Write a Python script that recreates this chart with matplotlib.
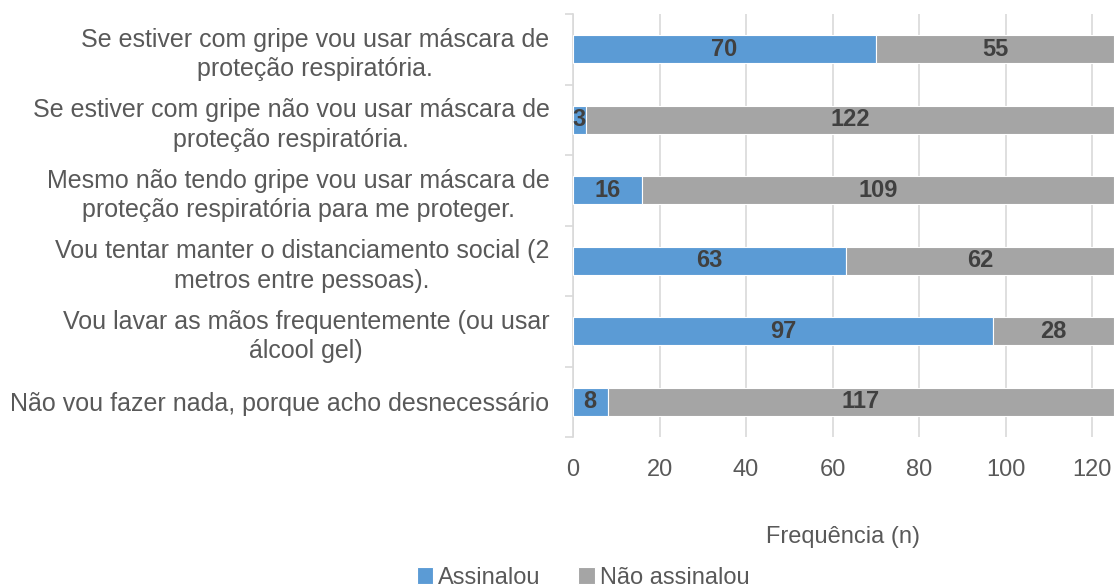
import matplotlib
matplotlib.use("Agg")
import matplotlib.pyplot as plt
from matplotlib import font_manager as fm
import numpy as np

categories = [
    "Se estiver com gripe vou usar máscara de\nproteção respiratória.",
    "Se estiver com gripe não vou usar máscara de\nproteção respiratória.",
    "Mesmo não tendo gripe vou usar máscara de\nproteção respiratória para me proteger.",
    "Vou tentar manter o distanciamento social (2\nmetros entre pessoas).",
    "Vou lavar as mãos frequentemente (ou usar\nálcool gel)",
    "Não vou fazer nada, porque acho desnecessário",
]
assinalou = [70, 3, 16, 63, 97, 8]
nao_assinalou = [55, 122, 109, 62, 28, 117]
series_names = ["Assinalou", "Não assinalou"]
xticks = [0, 20, 40, 60, 80, 100, 120]
xlabel = "Frequência (n)"

blue = "#5B9BD5"
gray = "#A5A5A5"
txt = "#595959"
grid = "#D9D9D9"

fp_label = fm.FontProperties(family="Liberation Sans", size=18)
fp_bold = fm.FontProperties(family="Liberation Sans", weight="bold", size=17)
fp_tick = fm.FontProperties(family="Liberation Sans", size=17)
fp_xlabel = fm.FontProperties(family="Liberation Sans", size=17)
fp_legend = fm.FontProperties(family="Liberation Sans", size=17)

fig = plt.figure(figsize=(11.14, 5.88), dpi=100)
ax = fig.add_axes([573 / 1114, 1 - 437 / 588, 1 - 573 / 1114, (437 - 14) / 588])

y = np.arange(len(categories))
b1 = ax.barh(y, assinalou, height=0.4, color=blue, edgecolor="white", linewidth=0.8,
             label=series_names[0], zorder=3)
b2 = ax.barh(y, nao_assinalou, left=assinalou, height=0.4, color=gray, edgecolor="white",
             linewidth=0.8, label=series_names[1], zorder=3)

for bars, vals, lefts in [(b1, assinalou, [0] * len(assinalou)), (b2, nao_assinalou, assinalou)]:
    for bar, v, l in zip(bars, vals, lefts):
        ax.text(l + v / 2, bar.get_y() + bar.get_height() / 2, str(v),
                ha="center", va="center", fontproperties=fp_bold,
                color="#404040", zorder=4)

ax.set_xlim(0, 125)
ax.set_ylim(len(categories) - 0.5, -0.5)

ax.set_xticks(xticks)
ax.set_xticklabels([str(t) for t in xticks], fontproperties=fp_tick, color=txt)
ax.tick_params(axis="x", length=0, pad=16)
ax.xaxis.grid(True, color=grid, linewidth=1.2, zorder=0)

ax.set_yticks(np.arange(len(categories) + 1) - 0.5)
ax.set_yticklabels([])
ax.set_yticks(y, minor=True)
ax.set_yticklabels(categories, minor=True, fontproperties=fp_label,
                   color=txt, multialignment="center", linespacing=1.3)
ax.tick_params(axis="y", which="minor", length=0, pad=17)
ax.tick_params(axis="y", which="major", length=6, color=grid, width=1.2)

for s in ["top", "right", "bottom"]:
    ax.spines[s].set_visible(False)
ax.spines["left"].set_color(grid)
ax.spines["left"].set_linewidth(1.2)

ax.set_xlabel(xlabel, fontproperties=fp_xlabel, color=txt, labelpad=32)

leg = fig.legend(handles=[b1, b2], labels=series_names, loc="center",
                 bbox_to_anchor=(583 / 1114, 1 - 578 / 588), ncol=2, frameon=False,
                 prop=fp_legend,
                 handlelength=0.7, handleheight=0.7, handletextpad=0.2, columnspacing=1.6)
for t in leg.get_texts():
    t.set_color(txt)

fig.savefig("out.png", dpi=100)
